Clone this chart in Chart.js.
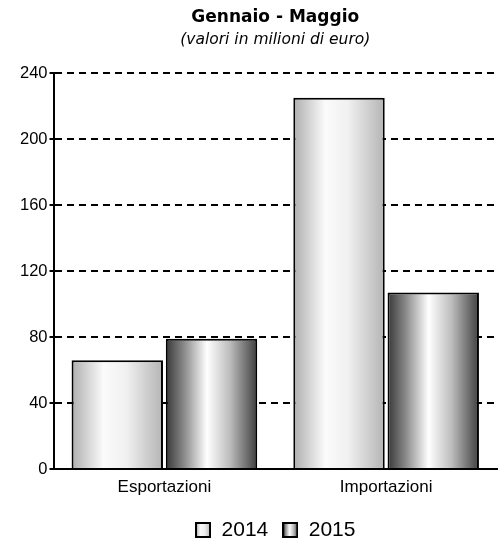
<!DOCTYPE html>
<html><head><meta charset="utf-8">
<script src="https://cdn.jsdelivr.net/npm/chart.js@4"></script>
<style>html,body{margin:0;padding:0;background:#fff}#wrap{width:504px;height:543px;position:relative}</style>
</head><body><div id="wrap"><canvas id="c"></canvas></div>
<script>
const categories = ['Esportazioni', 'Importazioni'];
const seriesLabels = ['2014', '2015'];
const values2014 = [66, 225];
const values2015 = [79, 107];
const yTickValues = [0, 40, 80, 120, 160, 200, 240];

const gradStops = [
  [[0, '#aeaeae'], [0.35, '#fbfbfb'], [0.6, '#f0f0f0'], [1, '#b4b4b4']],
  [[0, '#383838'], [0.2, '#8a8a8a'], [0.45, '#ffffff'], [0.7, '#bdbdbd'], [1, '#404040']]
];
function makeGrad(c, x0, x1, stops) {
  const g = c.createLinearGradient(x0, 0, x1, 0);
  stops.forEach(s => g.addColorStop(s[0], s[1]));
  return g;
}
function barBg(i) {
  return (ctx) => {
    const chart = ctx.chart;
    const meta = chart.getDatasetMeta(ctx.datasetIndex);
    const el = meta && meta.data ? meta.data[ctx.dataIndex] : null;
    if (!el || !el.width || isNaN(el.x)) return gradStops[i][1][1];
    return makeGrad(chart.ctx, el.x - el.width / 2, el.x + el.width / 2, gradStops[i]);
  };
}
function legendIcon(i) {
  const cv = document.createElement('canvas');
  cv.width = 16; cv.height = 16;
  const c = cv.getContext('2d');
  c.fillStyle = makeGrad(c, 0, 16, gradStops[i]);
  c.fillRect(0, 0, 16, 16);
  c.strokeStyle = '#000'; c.lineWidth = 2;
  c.strokeRect(1, 1, 14, 14);
  return cv;
}
const icons = [legendIcon(0), legendIcon(1)];

const chart = new Chart(document.getElementById('c'), {
  type: 'bar',
  data: {
    labels: categories,
    datasets: [
      { label: seriesLabels[0], data: values2014, backgroundColor: barBg(0), borderColor: '#000', borderWidth: 2, borderSkipped: 'bottom', categoryPercentage: 0.85, barPercentage: 0.97 },
      { label: seriesLabels[1], data: values2015, backgroundColor: barBg(1), borderColor: '#000', borderWidth: 2, borderSkipped: 'bottom', categoryPercentage: 0.85, barPercentage: 0.97 }
    ]
  },
  options: {
    responsive: true,
    maintainAspectRatio: false,
    animation: false,
    layout: { padding: { left: 18, right: 7, top: 0, bottom: -7.5 } },
    plugins: {
      tooltip: { enabled: false },
      title: {
        display: true, text: 'Gennaio - Maggio', fullSize: false, color: '#000',
        font: { family: 'DejaVu Sans', size: 17, weight: 'bold' },
        padding: { top: 7, bottom: 3 }
      },
      subtitle: {
        display: true, text: '(valori in milioni di euro)', fullSize: false, color: '#000',
        font: { family: 'DejaVu Sans', size: 15.5, style: 'italic' },
        padding: { top: 0, bottom: 24 }
      },
      legend: {
        position: 'bottom', fullSize: false,
        labels: {
          color: '#000', font: { family: 'Liberation Sans', size: 21 },
          boxWidth: 16, boxHeight: 16, usePointStyle: true, padding: 14,
          generateLabels: (ch) => ch.data.datasets.map((d, i) => ({
            text: d.label, pointStyle: icons[i], fillStyle: '#fff', strokeStyle: '#000',
            lineWidth: 0, datasetIndex: i, hidden: false
          }))
        }
      }
    },
    scales: {
      x: {
        grid: { display: false, drawTicks: false },
        border: { display: true, color: '#000', width: 2 },
        ticks: { color: '#000', font: { family: 'Liberation Sans', size: 17 }, padding: 8 }
      },
      y: {
        min: 0, max: 240,
        afterBuildTicks: (s) => { s.ticks = yTickValues.map(v => ({ value: v })); },
        grid: { color: '#000', lineWidth: 2, tickLength: 4, tickBorderDash: [], tickColor: '#000', tickWidth: 2 },
        border: { display: true, color: '#000', width: 2, dash: [7, 5] },
        ticks: { color: '#000', font: { family: 'Liberation Sans', size: 16.5 }, padding: 2 }
      }
    }
  }
});
chart.update('none');
</script></body></html>
